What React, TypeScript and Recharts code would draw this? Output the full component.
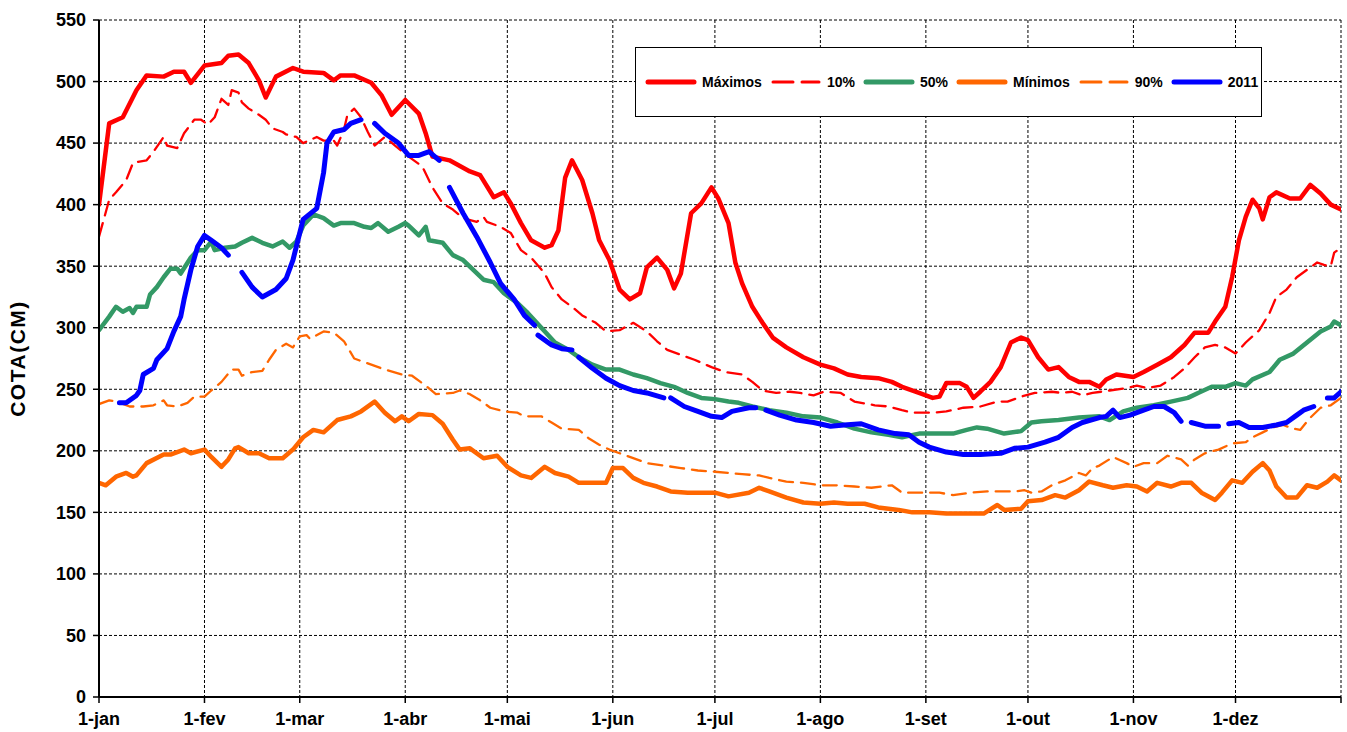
import React from 'react';
import { LineChart, Line, XAxis, YAxis, CartesianGrid, Legend } from 'recharts';

// ---------- data ----------
const xTickDays = [0, 31, 59, 90, 120, 151, 181, 212, 243, 273, 304, 334, 365];
const xTickLabels = ['1-jan', '1-fev', '1-mar', '1-abr', '1-mai', '1-jun', '1-jul', '1-ago', '1-set', '1-out', '1-nov', '1-dez', ''];
const yTicks = [0, 50, 100, 150, 200, 250, 300, 350, 400, 450, 500, 550];

const seriesNames = ['Máximos', '10%', '50%', 'Mínimos', '90%', '2011'];

const maxDays = [0,3,7,11,14,19,22,25,27,31,36,38,41,44,47,49,52,57,60,66,69,71,75,80,83,86,90,94,96,98,103,109,112,116,119,121,124,127,131,133,135,137,139,142,145,147,150,153,156,159,161,164,167,169,171,174,177,180,182,185,187,189,192,195,198,202,207,212,216,220,224,229,233,236,241,245,247,249,253,255,257,259,262,265,268,271,273,276,279,282,285,288,291,294,296,299,304,307,311,315,319,322,326,328,331,333,335,337,339,341,342,344,346,350,353,356,359,362,365];
const maxVals = [400,466,471,493,505,504,508,508,499,513,515,521,522,515,501,487,504,511,508,507,501,505,505,499,489,473,485,474,458,439,436,427,424,406,410,401,385,371,365,367,379,422,436,420,393,371,355,331,323,328,349,357,347,332,344,393,401,414,405,385,353,336,317,304,292,284,276,270,267,262,260,259,256,252,247,243,244,255,255,252,243,248,256,268,288,292,290,276,266,268,260,256,256,252,258,262,260,264,270,276,286,296,296,305,317,341,371,390,404,397,388,406,410,405,405,416,409,400,396];

const p10Days = [0,3,5,8,10,14,16,19,20,23,25,28,30,32,34,36,38,39,41,42,44,47,49,51,54,55,58,60,64,66,69,70,72,73,75,77,79,81,84,87,91,95,98,101,104,107,111,113,114,118,121,124,127,131,133,136,139,142,146,149,153,157,161,164,167,171,175,180,184,189,192,195,199,203,206,210,213,218,222,228,232,236,239,245,249,254,259,264,267,271,275,280,283,286,289,292,297,302,305,308,312,316,319,322,325,328,331,334,337,341,344,346,349,352,355,358,360,362,363,365];
const p10Vals = [374,404,410,420,434,436,443,455,448,446,458,469,469,465,471,486,481,493,491,483,478,473,469,462,459,457,455,450,455,452,452,448,461,473,478,471,459,448,455,448,439,431,414,401,396,389,386,390,386,382,377,363,357,344,333,323,317,310,304,297,298,304,297,289,282,278,274,268,264,262,256,249,247,248,247,245,248,247,240,237,236,233,231,231,232,235,236,240,240,244,247,248,247,248,245,247,249,251,253,251,253,260,267,276,284,286,284,279,288,298,312,325,331,341,347,353,351,350,361,365];

const p50Days = [0,3,5,7,9,10,11,14,15,17,19,21,23,24,27,29,31,33,34,37,40,42,45,48,51,54,56,58,60,63,66,69,71,75,78,80,82,85,88,90,91,94,96,97,101,104,107,110,113,116,119,123,126,130,134,138,141,145,149,153,157,161,165,169,173,177,181,185,188,192,197,202,207,212,217,222,227,232,236,241,246,251,255,258,261,266,271,274,277,282,288,294,297,301,305,310,315,320,323,327,331,334,337,339,344,347,351,355,359,362,363,365];
const p50Vals = [298,309,317,313,316,312,317,317,327,333,341,348,348,344,357,363,363,370,363,365,366,369,373,369,366,370,365,370,383,392,389,383,385,385,382,381,385,378,382,385,383,375,382,371,369,359,355,347,339,337,328,320,312,300,288,282,276,270,266,266,262,259,255,252,247,243,242,240,239,236,233,231,228,227,223,218,215,213,211,214,214,214,217,219,218,214,216,223,224,225,227,228,225,232,235,237,240,243,247,252,252,255,253,258,264,274,279,288,297,301,305,302];

const minDays = [0,2,5,8,10,11,14,19,21,25,27,31,33,36,38,40,41,44,47,50,54,57,60,63,66,70,74,77,81,84,87,89,91,94,98,101,104,106,109,113,117,120,124,127,131,134,138,141,145,149,151,154,157,160,164,168,173,177,181,185,191,194,197,202,207,212,216,220,225,229,235,239,244,249,254,260,264,266,271,273,277,281,284,288,291,295,298,302,305,308,311,315,318,321,324,328,330,333,336,339,342,344,346,349,352,355,358,361,363,365];
const minVals = [174,172,179,182,179,180,190,197,197,201,198,201,195,187,193,202,203,198,198,194,194,201,211,217,215,225,228,232,240,231,224,228,224,230,229,222,209,201,202,194,196,187,180,178,187,182,179,174,174,174,186,186,178,174,171,167,166,166,166,163,166,170,167,162,158,157,158,157,157,154,152,150,150,149,149,149,156,152,153,159,160,164,162,168,175,172,170,172,171,167,174,171,174,174,166,160,166,176,174,183,190,184,171,162,162,172,170,175,180,176];

const p90Days = [0,3,5,9,13,16,19,20,23,26,28,31,33,36,39,41,42,45,48,50,52,55,57,59,61,62,66,69,72,75,79,84,89,92,96,99,104,106,109,112,115,119,123,125,130,133,136,141,144,147,150,153,157,161,166,171,176,181,185,189,194,197,202,207,212,217,222,227,233,236,241,247,251,256,261,265,269,272,274,277,280,284,288,290,292,294,298,302,304,307,311,314,318,320,322,325,329,333,337,339,342,345,348,351,353,356,359,362,365];
const p90Vals = [238,241,240,236,236,237,241,237,236,239,244,244,249,256,266,266,261,264,265,274,282,287,284,293,294,291,297,296,289,275,271,266,262,261,253,246,247,249,246,241,235,232,231,228,228,223,218,217,210,205,201,198,194,190,188,186,184,183,182,181,180,178,175,174,172,172,171,170,172,166,166,166,164,166,167,167,167,168,166,167,172,176,182,180,186,188,195,190,187,190,190,196,193,188,193,198,201,206,207,211,215,219,221,218,217,227,235,237,243];

// 2011 (null = missing data)
const y2011Days = [6,8,11,12,13,16,17,20,22,24,25,27,29,31,33,36,38,40,42,45,48,52,55,57,59,60,64,66,67,69,72,74,77,79,81,84,88,91,94,97,100,102,103,107,111,115,118,122,125,128,128.5,129,133,136,139,140,141,145,149,153,157,161,166,167,168,172,176,180,183,186,191,193,194.5,196,200,205,210,215,219,224,229,234,238,241,244,249,254,259,265,269,273,278,282,286,289,294,296,298,300,303,307,310,313,316,318,319.5,321,325,329,330.5,332,335,338,342,346,349,352,354,357,359,361,363,365];
const y2011Vals = [239,239,245,249,262,267,274,283,297,309,323,347,366,375,371,365,359,null,345,333,325,331,340,355,377,388,397,426,450,459,461,466,469,null,466,458,450,440,440,443,436,null,414,393,374,353,336,323,310,302,null,294,286,283,282,null,276,267,259,253,249,247,243,null,243,236,232,228,227,232,235,235,null,233,229,225,223,220,221,222,217,214,213,207,203,199,197,197,198,202,203,207,211,219,223,227,228,233,227,229,233,236,236,231,224,null,223,220,220,null,222,223,219,219,221,223,229,233,236,null,243,243,248];

const toPoints = (days: number[], vals: (number | null)[]) => days.map((d, i) => ({ day: d, v: vals[i] }));

const seriesData = [
  toPoints(maxDays, maxVals),
  toPoints(p10Days, p10Vals),
  toPoints(p50Days, p50Vals),
  toPoints(minDays, minVals),
  toPoints(p90Days, p90Vals),
  toPoints(y2011Days, y2011Vals),
];

// ---------- styles ----------
const FONT = '"Liberation Sans", Arial, Helvetica, sans-serif';
const seriesStyles = [
  { color: '#FF0000', width: 4.5, dash: undefined, legendDash: undefined },
  { color: '#FF0000', width: 2.3, dash: '14 8', legendDash: '20 9' },
  { color: '#339966', width: 4.5, dash: undefined, legendDash: undefined },
  { color: '#FF6600', width: 4.5, dash: undefined, legendDash: undefined },
  { color: '#FF6600', width: 2.3, dash: '14 8', legendDash: '20 9' },
  { color: '#0000FF', width: 5, dash: undefined, legendDash: undefined },
];

const tickStyle = { fontFamily: FONT, fontWeight: 'bold' as const, fontSize: 18, fill: '#000' };

const renderLegend = () => (
  <div
    style={{
      width: 627,
      height: 70,
      boxSizing: 'border-box',
      border: '1.5px solid #000',
      background: '#fff',
      display: 'flex',
      alignItems: 'center',
      paddingLeft: 9,
      fontFamily: FONT,
      fontWeight: 'bold',
      fontSize: 14,
      color: '#000',
      whiteSpace: 'nowrap',
    }}
  >
    {seriesNames.map((name, i) => {
      const s = seriesStyles[i];
      return (
        <div key={name} style={{ display: 'flex', alignItems: 'center', marginRight: 8 }}>
          <svg width={52} height={10} style={{ display: 'block' }}>
            <line
              x1={3}
              y1={5}
              x2={49}
              y2={5}
              stroke={s.color}
              strokeWidth={s.dash ? 3 : 5}
              strokeDasharray={s.legendDash}
              strokeLinecap="round"
            />
          </svg>
          <span style={{ marginLeft: 5 }}>{name}</span>
        </div>
      );
    })}
  </div>
);

export default function App() {
  return (
    <div style={{ position: 'fixed', left: 0, top: 0, width: 1347, height: 732, background: '#fff', overflow: 'hidden' }}>
      <LineChart width={1347} height={732} margin={{ top: 20, right: 6, bottom: 0, left: 0 }}>
        <CartesianGrid stroke="#000" strokeWidth={1} strokeDasharray="3 2" />
        <XAxis
          type="number"
          dataKey="day"
          domain={[0, 365]}
          ticks={xTickDays}
          tickFormatter={(d: number) => xTickLabels[xTickDays.indexOf(d)] ?? ''}
          allowDataOverflow
          height={35}
          tick={tickStyle}
          tickSize={6}
          tickMargin={9}
          axisLine={{ stroke: '#000', strokeWidth: 2 }}
          tickLine={{ stroke: '#000', strokeWidth: 1.5 }}
          interval={0}
        />
        <YAxis
          type="number"
          domain={[0, 550]}
          ticks={yTicks}
          width={99}
          tick={tickStyle}
          tickSize={6}
          tickMargin={7}
          axisLine={{ stroke: '#000', strokeWidth: 2 }}
          tickLine={{ stroke: '#000', strokeWidth: 1.5 }}
          interval={0}
          label={{
            value: 'COTA(CM)',
            angle: -90,
            position: 'insideLeft',
            offset: 18,
            style: { textAnchor: 'middle', fontFamily: FONT, fontWeight: 'bold', fontSize: 21, letterSpacing: 1.5, fill: '#000' },
          }}
        />
        <Legend
          content={renderLegend}
          layout="horizontal"
          align="center"
          verticalAlign="middle"
          wrapperStyle={{ position: 'absolute', left: 635, top: 47, width: 627, height: 70 }}
        />
        {seriesData.map((data, i) => (
          <Line
            key={seriesNames[i]}
            data={data}
            dataKey="v"
            name={seriesNames[i]}
            type="linear"
            stroke={seriesStyles[i].color}
            strokeWidth={seriesStyles[i].width}
            strokeDasharray={seriesStyles[i].dash}
            strokeLinejoin="round"
            strokeLinecap="round"
            dot={false}
            activeDot={false}
            connectNulls={false}
            isAnimationActive={false}
          />
        ))}
      </LineChart>
    </div>
  );
}
